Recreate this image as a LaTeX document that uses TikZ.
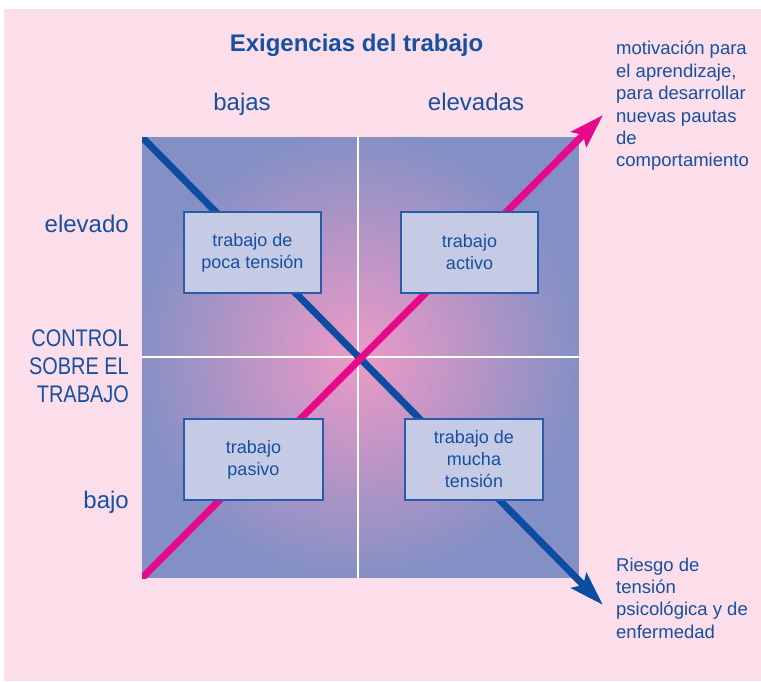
\documentclass[tikz,border=0pt]{standalone}
\usepackage{fontspec}
\setmainfont{Liberation Sans}
\newfontfamily\condfont[FakeStretch=0.83]{Liberation Sans}
\usetikzlibrary{arrows.meta}
\definecolor{bgpink}{RGB}{251,222,233}
\definecolor{sqblue}{RGB}{131,144,197}
\definecolor{sqpink}{RGB}{238,154,198}
\definecolor{txtblue}{RGB}{22,80,160}
\definecolor{lineblue}{RGB}{12,77,162}
\definecolor{linepink}{RGB}{232,8,138}
\definecolor{boxfill}{RGB}{197,202,229}
\definecolor{boxedge}{RGB}{40,92,170}
\begin{document}
\begin{tikzpicture}[x=1pt,y=-1pt,
  quadbox/.style={draw=boxedge, line width=1.5pt, fill=boxfill, minimum height=81pt,
    inner sep=0pt, align=center, text=txtblue, font=\fontsize{18}{22}\selectfont},
  lbl/.style={text=txtblue, inner sep=0pt},
  biglbl/.style={lbl, font=\fontsize{24}{28}\selectfont},
  sidetxt/.style={lbl, align=left, font=\fontsize{18.5}{22.4}\selectfont},
  divider/.style={white, line width=2pt},
  arrowline/.style={line width=7pt, -{Stealth[length=34pt,width=21pt,inset=6pt]}}]
\useasboundingbox (0,0) rectangle (761,681);
\fill[white] (0,0) rectangle (761,681);
\fill[bgpink] (4,9) rectangle (761,681);
% gradient square
\begin{scope}
  \clip (142,137) rectangle (579,578);
  \fill[sqblue] (142,137) rectangle (579,578);
  \foreach \i in {0,...,79}{
    \pgfmathsetmacro\r{2.85*(80-\i)}
    \pgfmathsetmacro\p{1.25*(80-\i)}
    \fill[sqblue!\p!sqpink] (358,356.5) circle[radius=\r];
  }
\end{scope}
\draw[bgpink, line width=1pt] (141.5,136.5) rectangle (579.5,578.5);
\coordinate (vtop) at (358,137);
\coordinate (vbot) at (358,578);
\coordinate (hleft) at (142,356.5);
\coordinate (hright) at (579,356.5);
\draw[divider] (vtop) -- (vbot);
\draw[divider] (hleft) -- (hright);
% arrows
\coordinate (bs) at (138,133);
\coordinate (be) at (603,605);
\coordinate (ps) at (138,582);
\coordinate (pe) at (603,115);
\begin{scope}
  \clip (142,137) rectangle (761,681);
  \draw[arrowline, lineblue] (bs) -- (be);
\end{scope}
\begin{scope}
  \clip (142,0) rectangle (761,578);
  \draw[arrowline, linepink] (ps) -- (pe);
\end{scope}
% boxes
\node[quadbox, minimum width=137pt] (b1) at (252.5,252.5) {trabajo de\\poca tensión};
\node[quadbox, minimum width=137pt] (b2) at (469.5,252.5) {trabajo\\activo};
\node[quadbox, minimum width=139pt] (b3) at (253.5,459.5) {trabajo\\pasivo};
\node[quadbox, minimum width=138pt] (b4) at (474,459.5) {trabajo de\\mucha\\tensión};
% labels
\node[lbl, anchor=base, font=\fontsize{24}{28}\selectfont\bfseries] (title) at (356.5,51) {Exigencias del trabajo};
\node[biglbl, anchor=base] (bajas) at (242,110) {bajas};
\node[biglbl, anchor=base] (elevadas) at (476,110) {elevadas};
\node[biglbl, anchor=base east] (elevado) at (129,232) {elevado};
\node[biglbl, anchor=base east] (bajo) at (129,508) {bajo};
\node[lbl, anchor=east, align=right, font=\fontsize{24}{28}\condfont] (control) at (129,366.5) {CONTROL\\SOBRE EL\\TRABAJO};
\node[sidetxt, anchor=west] (motiv) at (616,106) {motivación para\\el aprendizaje,\\para desarrollar\\nuevas pautas\\de\\comportamiento};
\node[sidetxt, anchor=west] (riesgo) at (616,598) {Riesgo de\\tensión\\psicológica y de\\enfermedad};
\end{tikzpicture}
\end{document}
